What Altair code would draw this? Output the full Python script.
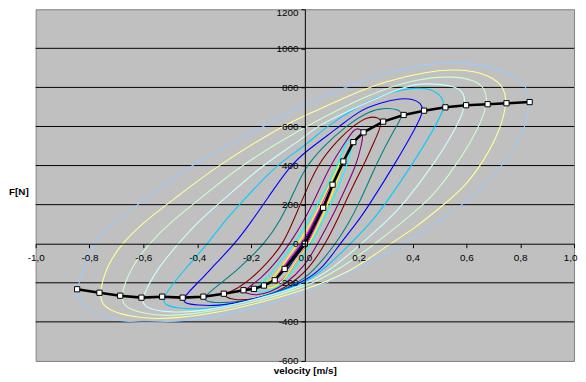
import altair as alt
import pandas as pd

# ---------------- data ----------------
X_TICKS = [-1.0, -0.8, -0.6, -0.4, -0.2, 0.0, 0.2, 0.4, 0.6, 0.8, 1.0]
Y_TICKS = [-600, -400, -200, 0, 200, 400, 600, 800, 1000, 1200]
GRID_Y = [-400, -200, 200, 400, 600, 800, 1000]

# characteristic curve (black line with white squares)
CURVE_V = [-0.846, -0.763, -0.686, -0.607, -0.530, -0.454, -0.377, -0.301, -0.228,
           -0.189, -0.152, -0.112, -0.075, 0.0, 0.068, 0.103, 0.143, 0.180, 0.218,
           0.291, 0.367, 0.443, 0.522, 0.599, 0.679, 0.749, 0.835]
CURVE_F = [-233, -251, -266, -276, -271, -276, -271, -256, -238,
           -231, -214, -187, -129, 0, 184, 302, 421, 520, 570,
           625, 659, 681, 698, 709, 714, 719, 725]

# hysteresis loops, inner to outer (Excel default series colours)
LOOP_NAMES = ["s01", "s02", "s03", "s04", "s05", "s06", "s07", "s08", "s09", "s10", "s11", "s12", "s13"]
LOOP_COLORS = ["#000080", "#FF00FF", "#FFFF00", "#00FFFF", "#800080", "#800000", "#008080",
               "#0000FF", "#00CCFF", "#CCFFFF", "#CCFFCC", "#FFFF99", "#99CCFF"]

loop_navy = [(0.068, 184), (0.062, 192), (0.028, 95), (-0.007, 0), (-0.048, -70), (-0.068, -105),
             (-0.077, -133), (-0.07, -140), (-0.055, -112), (-0.03, -60), (0.007, 0), (0.04, 100),
             (0.062, 168)]
loop_magenta = [(0.103, 302), (0.097, 310), (0.08, 255), (0.045, 150), (0.01, 50), (-0.014, 0),
                (-0.065, -90), (-0.095, -150), (-0.112, -188), (-0.108, -198), (-0.09, -196),
                (-0.06, -150), (-0.025, -80), (0.011, 0), (0.05, 120), (0.093, 245)]
loop_yellow = [(0.143, 421), (0.137, 432), (0.119, 385), (0.075, 250), (0.03, 120), (-0.026, 0),
               (-0.09, -125), (-0.125, -185), (-0.152, -214), (-0.146, -226), (-0.12, -229),
               (-0.08, -195), (-0.044, -110), (0.017, 0), (0.07, 150), (0.115, 300)]
loop_cyan = [(0.180, 520), (0.172, 537), (0.155, 530), (0.122, 400), (0.07, 260), (0.027, 150),
             (-0.038, 0), (-0.098, -100), (-0.14, -180), (-0.189, -231), (-0.18, -246),
             (-0.14, -250), (-0.09, -215), (-0.023, -100), (0.023, 0), (0.098, 200), (0.158, 400)]
loop_purple = [(0.218, 570), (0.205, 590), (0.183, 587), (0.16, 540), (0.093, 400), (0.045, 250),
               (0.0, 125), (-0.056, 0), (-0.11, -100), (-0.16, -175), (-0.227, -239),
               (-0.22, -255), (-0.18, -265), (-0.13, -250), (-0.07, -205), (0.0, -115),
               (0.048, 0), (0.11, 160), (0.15, 280), (0.19, 400), (0.21, 500)]
loop_darkred = [(0.291, 625), (0.27, 648), (0.235, 650), (0.19, 615), (0.12, 530), (0.045, 400),
                (0.0, 255), (-0.045, 110), (-0.08, 0), (-0.14, -100), (-0.20, -180), (-0.25, -230),
                (-0.30, -257), (-0.295, -275), (-0.255, -290), (-0.19, -285), (-0.11, -255),
                (0.0, -160), (0.078, 0), (0.13, 150), (0.18, 300), (0.225, 420), (0.26, 530)]
loop_teal = [(0.367, 659), (0.35, 688), (0.30, 695), (0.24, 682), (0.15, 600), (0.07, 500),
             (0.0, 390), (-0.045, 250), (-0.09, 120), (-0.15, 0), (-0.21, -80), (-0.25, -133),
             (-0.31, -200), (-0.377, -273), (-0.37, -295), (-0.32, -303), (-0.25, -298),
             (-0.17, -278), (-0.08, -235), (0.0, -180), (0.05, -110), (0.115, 0), (0.16, 100),
             (0.20, 200), (0.27, 423), (0.33, 580)]
loop_blue = [(0.443, 681), (0.43, 722), (0.40, 740), (0.36, 745), (0.28, 722), (0.20, 680),
             (0.13, 600), (0.0, 470), (-0.06, 390), (-0.135, 240), (-0.20, 110), (-0.26, 0),
             (-0.33, -100), (-0.39, -190), (-0.454, -277), (-0.45, -305), (-0.40, -315),
             (-0.32, -318), (-0.24, -300), (-0.12, -260), (0.0, -193), (0.07, -120), (0.13, 0),
             (0.19, 100), (0.24, 200), (0.341, 423), (0.41, 590)]
loop_skyblue = [(0.522, 698), (0.51, 755), (0.47, 790), (0.42, 802), (0.30, 772), (0.18, 690),
                (0.08, 600), (0.0, 500), (-0.10, 410), (-0.21, 250), (-0.30, 115), (-0.36, 0),
                (-0.44, -120), (-0.530, -273), (-0.525, -310), (-0.48, -330), (-0.39, -336),
                (-0.30, -322), (-0.17, -280), (0.0, -205), (0.08, -120), (0.17, 0), (0.24, 100),
                (0.298, 200), (0.408, 423), (0.48, 590)]
loop_turq = [(0.599, 709), (0.59, 775), (0.56, 808), (0.45, 822), (0.38, 812), (0.20, 705),
             (0.04, 600), (0.0, 545), (-0.16, 400), (-0.29, 240), (-0.40, 110), (-0.47, 0),
             (-0.545, -120), (-0.607, -277), (-0.60, -320), (-0.55, -345), (-0.46, -352),
             (-0.38, -345), (-0.22, -300), (0.0, -216), (0.10, -130), (0.21, 0), (0.30, 110),
             (0.366, 200), (0.488, 423), (0.565, 600)]
loop_green = [(0.679, 714), (0.672, 790), (0.635, 838), (0.543, 858), (0.42, 845), (0.25, 775),
              (0.0, 600), (-0.24, 400), (-0.38, 240), (-0.50, 110), (-0.58, 0), (-0.645, -120),
              (-0.686, -266), (-0.672, -320), (-0.62, -352), (-0.53, -369), (-0.44, -366),
              (-0.25, -322), (0.0, -228), (0.13, -130), (0.262, 0), (0.371, 120), (0.439, 200),
              (0.482, 255), (0.574, 423), (0.645, 590)]
loop_lightyellow = [(0.751, 719), (0.742, 795), (0.70, 850), (0.63, 885), (0.55, 892),
                    (0.45, 880), (0.30, 832), (0.176, 767), (0.0, 655), (-0.087, 600),
                    (-0.325, 400), (-0.47, 245), (-0.60, 110), (-0.68, 0), (-0.735, -110),
                    (-0.764, -250), (-0.754, -319), (-0.692, -360), (-0.595, -382),
                    (-0.497, -386), (-0.277, -344), (0.0, -240), (0.176, -140), (0.31, -5),
                    (0.408, 78), (0.512, 196), (0.592, 288), (0.665, 423), (0.725, 580)]
loop_paleblue = [(0.835, 725), (0.828, 795), (0.79, 853), (0.69, 908), (0.567, 930),
                 (0.445, 918), (0.298, 875), (0.176, 816), (0.0, 715), (-0.16, 595),
                 (-0.42, 410), (-0.59, 230), (-0.72, 100), (-0.785, 0), (-0.825, -120),
                 (-0.846, -233), (-0.837, -290), (-0.805, -340), (-0.73, -388), (-0.625, -404),
                 (-0.497, -401), (-0.277, -369), (0.0, -255), (0.176, -140), (0.378, 0),
                 (0.482, 103), (0.586, 200), (0.665, 288), (0.745, 423), (0.815, 560)]

LOOPS = [loop_navy, loop_magenta, loop_yellow, loop_cyan, loop_purple, loop_darkred, loop_teal,
         loop_blue, loop_skyblue, loop_turq, loop_green, loop_lightyellow, loop_paleblue]

# ---------------- build tables ----------------
rows = []
for k, (name, pts) in enumerate(zip(LOOP_NAMES, LOOPS)):
    for i, (v, f) in enumerate(pts):
        rows.append({"loop": name, "i": i, "v": v, "F": f})
loops_df = pd.DataFrame(rows)
curve_df = pd.DataFrame({"v": CURVE_V, "F": CURVE_F})
grid_df = pd.DataFrame({"F": GRID_Y})

W, H = 545, 356
x_scale = alt.Scale(domain=[-1, 1], nice=False, zero=False)
y_scale = alt.Scale(domain=[-600, 1200], nice=False, zero=False)

x_axis = alt.Axis(
    orient="bottom", offset=-H * 600 / 1800, values=X_TICKS,
    labelExpr="replace(replace(format(datum.value, '.1f'), '.', ','), '\u2212', '-')",
    labelOffset={"condition": {"test": "datum.value == 1", "value": -4}, "value": 0},
    tickSize=4, tickColor="black", domainColor="black", grid=False,
    labelFont="Liberation Sans", labelFontSize=10, labelColor="black", labelPadding=5,
    labelFlush=False, labelOverlap=False,
    title="velocity [m/s]", titleFont="Liberation Sans", titleFontSize=10,
    titleFontWeight="bold", titleColor="black", titleY=131.5, titleBaseline="alphabetic",
    zindex=1,
)
y_axis = alt.Axis(
    orient="left", offset=-W / 2, values=Y_TICKS,
    labelExpr="'' + datum.value",
    labelOffset={"condition": {"test": "datum.value == 1200", "value": 3}, "value": 0},
    tickSize=4, tickColor="black", domainColor="black", grid=False,
    labelFont="Liberation Sans", labelFontSize=10, labelColor="black", labelPadding=3,
    labelFlush=False, labelOverlap=False, labelBound=False,
    title="F[N]", titleFont="Liberation Sans", titleFontSize=10, titleFontWeight="bold",
    titleColor="black", titleAngle=0, titleX=-290, titleY=188, titleAlign="center",
    titleBaseline="alphabetic", zindex=1,
)

X = alt.X("v:Q", scale=x_scale, axis=x_axis)
Y = alt.Y("F:Q", scale=y_scale, axis=y_axis)

grid = alt.Chart(grid_df).mark_rule(color="black", strokeWidth=1).encode(y=Y)

loops = alt.Chart(loops_df).mark_line(interpolate="basis-closed", strokeWidth=1.1).encode(
    x=X, y=Y,
    color=alt.Color("loop:N", scale=alt.Scale(domain=LOOP_NAMES, range=LOOP_COLORS), legend=None),
    order=alt.Order("i:Q"),
    detail="loop:N",
)

curve = alt.Chart(curve_df).mark_line(color="black", strokeWidth=2.6).encode(x=X, y=Y)
marks = alt.Chart(curve_df).mark_point(shape="square", filled=True, fill="white", stroke="black",
                                       strokeWidth=1, size=28, opacity=1).encode(x=X, y=Y)

chart = alt.layer(grid, loops, curve, marks).properties(
    width=W, height=H,
    autosize=alt.AutoSizeParams(type="none"),
    padding={"left": 28, "top": -1, "right": 4, "bottom": 16},
    background="white",
).configure_view(
    fill="#C0C0C0", stroke="#808080", strokeWidth=1
).configure_axis(labelOverlap=False)

chart.save("out.html", embed_options={"renderer": "svg", "actions": False})
